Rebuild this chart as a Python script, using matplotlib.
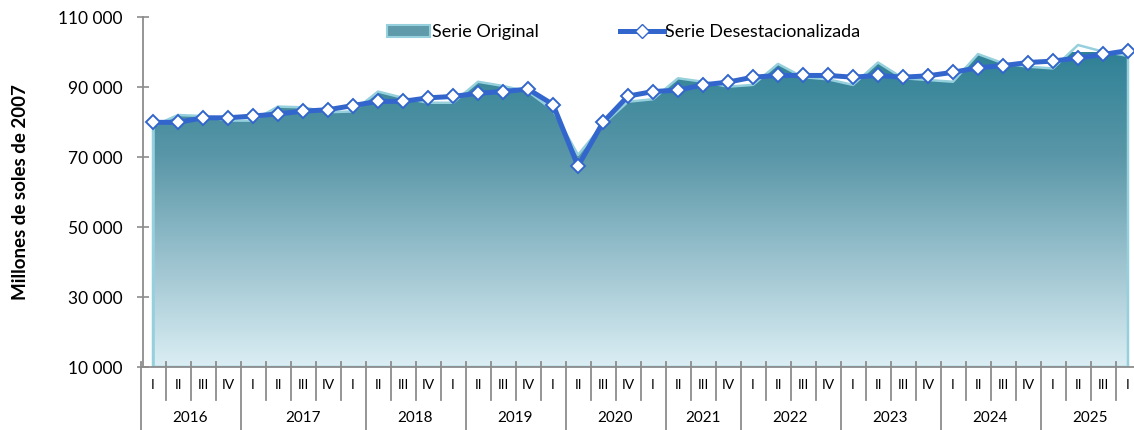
import numpy as np
import matplotlib
matplotlib.use("Agg")
import matplotlib.pyplot as plt
from matplotlib.colors import LinearSegmentedColormap
from matplotlib.patches import Patch
from matplotlib.lines import Line2D

plt.rcParams["font.family"] = ["Lato", "DejaVu Sans"]

# Quarterly series, millones de soles de 2007
original = [78800, 82000, 81700, 80400, 80400, 84400, 84200, 82800, 83000, 88700,
            86900, 85500, 85500, 91500, 90300, 88700, 83400, 70600, 79300, 85800,
            86500, 92500, 91500, 90100, 90600, 96600, 92800, 92200, 90600, 97000,
            92500, 92000, 91500, 99400, 96800, 95800, 95300, 102000, 100100, 98900]
desestacionalizada = [79900, 79900, 81200, 81200, 81700, 82300, 83100, 83500, 84700, 85900,
                      85900, 86900, 87300, 88200, 88700, 89400, 85000, 67400, 79900, 87400,
                      88700, 89100, 90600, 91400, 92800, 93300, 93300, 93300, 92800, 93300,
                      92800, 93200, 94200, 95500, 96100, 97000, 97400, 98300, 99300, 100400]

# category labels as they appear on the axis
quarter_labels = ["I", "II", "III", "IV",
                  "I", "II", "III", "IV", "I",
                  "II", "III", "IV", "I",
                  "II", "III", "IV", "I",
                  "II", "III", "IV", "I",
                  "II", "III", "IV",
                  "I", "II", "III", "IV",
                  "I", "II", "III", "IV",
                  "I", "II", "III", "IV",
                  "I", "II", "III", "I"]
years = ["2016", "2017", "2018", "2019", "2020", "2021", "2022", "2023", "2024", "2025"]
year_span = [4, 5, 4, 4, 4, 3, 4, 4, 4, 4]

x = np.arange(len(original))
ymin, ymax = 10000, 110000

fig = plt.figure(figsize=(11.34, 4.30), dpi=100)
ax = fig.add_axes([143 / 1134, 63 / 430, 1000 / 1134, 350 / 430])

# gradient area for the original series
fill = ax.fill_between(x, original, ymin, facecolor="none",
                       edgecolor="#95d0dc", linewidth=1.8, zorder=2)
cmap = LinearSegmentedColormap.from_list("teal", ["#dbeef4", "#9cc3cf", "#5a97a8", "#2f8196"])
grad = np.linspace(0, 1, 256).reshape(-1, 1)
img = ax.imshow(grad, cmap=cmap, origin="lower", aspect="auto",
                extent=[-0.5, 39.5, ymin, 100000], zorder=1)
img.set_clip_path(fill.get_paths()[0], transform=ax.transData)
ax.plot([0, 0], [ymin, original[0]], color="#95d0dc", linewidth=1.8, zorder=2)

# seasonally adjusted series
ax.plot(x, desestacionalizada, color="#3366cc", linewidth=3.6, marker="D",
        markersize=7, markerfacecolor="white", markeredgecolor="#3366cc",
        markeredgewidth=1.4, zorder=3)

ax.set_xlim(-0.4, 39.6)
ax.set_ylim(ymin, ymax)
ax.set_yticks(np.arange(10000, 110001, 20000))
ax.set_yticklabels([f"{v:,}".replace(",", " ") for v in range(10000, 110001, 20000)],
                   fontsize=12.5)
ax.tick_params(axis="y", direction="inout", length=9, width=1.2, color="#8c8c8c", pad=10)
ax.set_xticks([])
for side in ["top", "right"]:
    ax.spines[side].set_visible(False)
for side in ["left", "bottom"]:
    ax.spines[side].set_color("#8c8c8c")
    ax.spines[side].set_linewidth(1.3)

ax.set_ylabel("Millones de soles de 2007", fontsize=13.5, fontweight="bold", labelpad=21)

# grouped category axis
trans = ax.get_xaxis_transform()
bounds = np.cumsum([0] + year_span)
for i in range(len(x) + 1):
    bottom = -0.18 if i in bounds else -0.095
    ax.plot([i - 0.5, i - 0.5], [0.015, bottom], color="#8c8c8c", linewidth=1.3,
            transform=trans, clip_on=False)
for i, lab in enumerate(quarter_labels):
    ax.text(i, -0.052, lab, ha="center", va="center", fontsize=10, transform=trans)
for yr, a, b in zip(years, bounds[:-1], bounds[1:]):
    ax.text((a + b - 1) / 2, -0.145, yr, ha="center", va="center", fontsize=11,
            transform=trans)

handles = [Patch(facecolor="#5f9aab", edgecolor="#95d0dc", linewidth=1.5),
           Line2D([], [], color="#3366cc", linewidth=3.6, marker="D", markersize=7,
                  markerfacecolor="white", markeredgecolor="#3366cc")]
fig.legend(handles, ["Serie Original", "Serie Desestacionalizada"], ncol=2,
           loc="center", bbox_to_anchor=(0.55, 0.925), frameon=False, fontsize=13,
           handlelength=2.4, handletextpad=0.1, columnspacing=4.5)

fig.savefig("out.png", dpi=100)
